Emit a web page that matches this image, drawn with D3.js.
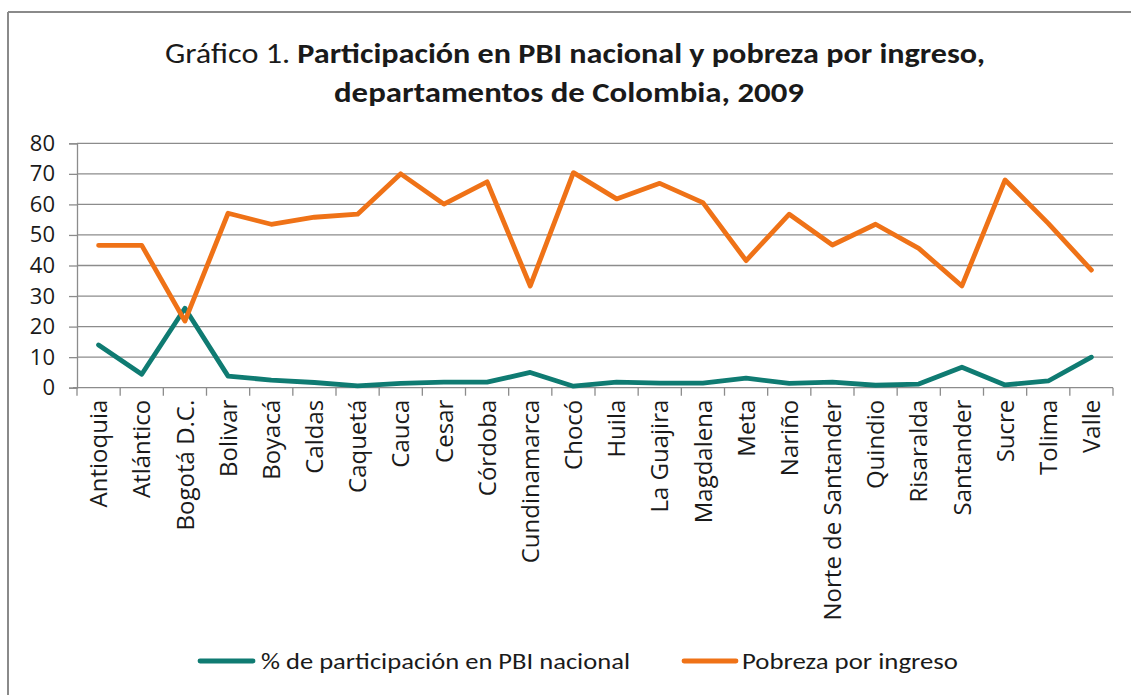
<!DOCTYPE html>
<html>
<head>
<meta charset="utf-8">
<script src="https://cdn.jsdelivr.net/npm/d3@7/dist/d3.min.js"></script>
<style>
  html, body { margin: 0; padding: 0; background: #ffffff; }
  svg { display: block; }
</style>
</head>
<body>
<svg id="chart" width="1131" height="695"></svg>
<script>
// ---- Data ----
const categories = ["Antioquia", "Atlántico", "Bogotá D.C.", "Bolivar", "Boyacá", "Caldas", "Caquetá", "Cauca", "Cesar", "Córdoba", "Cundinamarca", "Chocó", "Huila", "La Guajira", "Magdalena", "Meta", "Nariño", "Norte de Santander", "Quindio", "Risaralda", "Santander", "Sucre", "Tolima", "Valle"];
const pbiShare = [14.0, 4.4, 26.0, 3.8, 2.5, 1.7, 0.6, 1.4, 1.8, 1.8, 5.0, 0.5, 1.8, 1.5, 1.5, 3.1, 1.4, 1.8, 0.8, 1.2, 6.7, 0.9, 2.2, 10.0];
const poverty = [46.6, 46.6, 21.8, 57.1, 53.5, 55.8, 56.8, 70.0, 60.1, 67.4, 33.3, 70.4, 61.8, 66.9, 60.6, 41.6, 56.8, 46.7, 53.5, 45.6, 33.3, 68.0, 53.8, 38.5];
const yTicks = [0, 10, 20, 30, 40, 50, 60, 70, 80];
const seriesNames = ["% de participación en PBI nacional", "Pobreza por ingreso"];
const seriesColors = ["#0f7b72", "#ef7217"];
const titleLine1Normal = "Gráfico 1. ";
const titleLine1Bold = "Participación en PBI nacional y pobreza por ingreso,";
const titleLine2 = "departamentos de Colombia, 2009";

// ---- Layout ----
const svg = d3.select("#chart");
const W = 1131, H = 695;
const plot = { left: 77, right: 1113, top: 143.3, bottom: 387.7 };
const gridColor = "#8c8c8c";
const titleFont = "Carlito, 'Liberation Sans Narrow', 'Liberation Sans', Arial, sans-serif";
const axisFont = "'Open Sans', 'Noto Sans', sans-serif";

// Chart frame (only top and left edges visible in crop)
svg.append("line").attr("x1", 8).attr("x2", W).attr("y1", 12).attr("y2", 12)
  .attr("stroke", "#8a8a8a").attr("stroke-width", 2);
svg.append("line").attr("x1", 8).attr("x2", 8).attr("y1", 12).attr("y2", H)
  .attr("stroke", "#8a8a8a").attr("stroke-width", 2);

// Scales
const x = d3.scaleBand().domain(categories).range([plot.left, plot.right]).paddingInner(0).paddingOuter(0);
const y = d3.scaleLinear().domain([0, 80]).range([plot.bottom, plot.top]);
const cx = d => x(d) + x.bandwidth() / 2;

// Gridlines + y axis
const yAxis = d3.axisLeft(y).tickValues(yTicks).tickSize(8).tickPadding(14).tickFormat(d3.format("d"));
const gy = svg.append("g").attr("transform", `translate(${plot.left},0)`).call(yAxis);
gy.select(".domain").attr("stroke", gridColor).attr("stroke-width", 1.3);
gy.selectAll(".tick line").attr("stroke", gridColor).attr("stroke-width", 1.3);
gy.selectAll(".tick text").attr("font-family", axisFont).attr("font-size", 22).attr("fill", "#1a1a1a");

svg.append("g").selectAll("line").data(yTicks.filter(d => d > 0)).join("line")
  .attr("x1", plot.left).attr("x2", plot.right)
  .attr("y1", d => y(d)).attr("y2", d => y(d))
  .attr("stroke", gridColor).attr("stroke-width", 1.3);

// X axis with ticks on band boundaries
const xAxis = d3.axisBottom(x).tickSize(0).tickPadding(0);
const gx = svg.append("g").attr("transform", `translate(0,${plot.bottom})`).call(xAxis);
gx.select(".domain").attr("stroke", gridColor).attr("stroke-width", 1.3)
  .attr("d", `M${plot.left - 4},0H${plot.right}`);
gx.selectAll(".tick line").remove();
const boundaries = categories.map(c => x(c)).concat([plot.right]);
gx.selectAll(".bnd").data(boundaries).join("line").attr("class", "bnd")
  .attr("x1", d => d).attr("x2", d => d).attr("y1", 0).attr("y2", 8)
  .attr("stroke", gridColor).attr("stroke-width", 1.3);
gx.selectAll(".tick text")
  .attr("font-family", axisFont).attr("font-size", 24).attr("fill", "#1a1a1a")
  .attr("text-anchor", "end")
  .attr("transform", "rotate(-90)")
  .attr("x", -12).attr("y", 0).attr("dy", "0.36em");

// Lines
const lineGen = d3.line().x(d => cx(d.c)).y(d => y(d.v));
[pbiShare, poverty].forEach((vals, i) => {
  const pts = categories.map((c, k) => ({ c, v: vals[k] }));
  svg.append("path").datum(pts)
    .attr("fill", "none").attr("stroke", seriesColors[i]).attr("stroke-width", 4.8)
    .attr("stroke-linejoin", "round").attr("stroke-linecap", "round")
    .attr("d", lineGen);
});

// Title
function fitText(sel, target) {
  sel.attr("textLength", target).attr("lengthAdjust", "spacingAndGlyphs");
}
const t1 = svg.append("text").attr("x", 575).attr("y", 63).attr("text-anchor", "middle")
  .attr("font-family", titleFont).attr("font-size", 29).attr("fill", "#1a1a1a");
t1.append("tspan").text(titleLine1Normal);
t1.append("tspan").attr("font-weight", "bold").text(titleLine1Bold);
fitText(t1, 820);
const t2 = svg.append("text").attr("x", 569).attr("y", 102).attr("text-anchor", "middle")
  .attr("font-family", titleFont).attr("font-size", 29).attr("font-weight", "bold").attr("fill", "#1a1a1a")
  .text(titleLine2);
fitText(t2, 470);

// Legend
const legendItems = [
  { name: seriesNames[0], color: seriesColors[0], x0: 200, x1: 253, tx: 261, tw: 369 },
  { name: seriesNames[1], color: seriesColors[1], x0: 684, x1: 736, tx: 742, tw: 216 }
];
const lg = svg.append("g");
legendItems.forEach(it => {
  lg.append("line").attr("x1", it.x0).attr("x2", it.x1).attr("y1", 661).attr("y2", 661)
    .attr("stroke", it.color).attr("stroke-width", 4.8).attr("stroke-linecap", "round");
  const t = lg.append("text").attr("x", it.tx).attr("y", 669)
    .attr("font-family", titleFont).attr("font-size", 23).attr("fill", "#1a1a1a").text(it.name);
  fitText(t, it.tw);
});
</script>
</body>
</html>
